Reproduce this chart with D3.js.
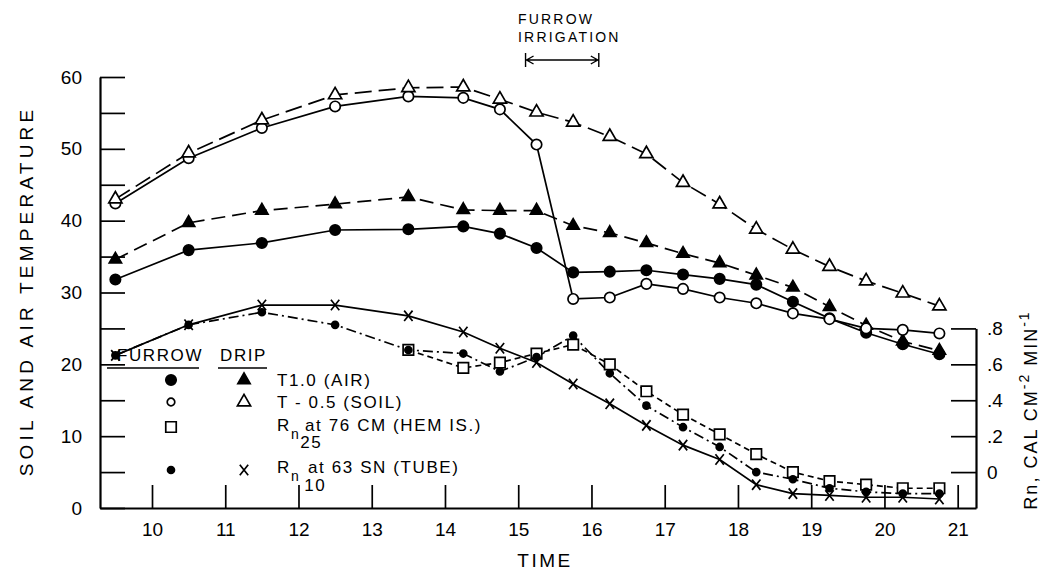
<!DOCTYPE html>
<html lang="en">
<head>
<meta charset="UTF-8">
<script src="https://d3js.org/d3.v7.min.js"></script>
<title>Soil and air temperature</title>
<style>
  body { margin: 0; background: #fff; }
  svg { display: block; font-family: "Liberation Sans", Arial, sans-serif; }
</style>
</head>
<body>
<svg width="1041" height="575"></svg>
<script>
// time of each reading (hours)
const times = [9.5, 10.5, 11.5, 12.5, 13.5, 14.25, 14.75, 15.25, 15.75, 16.25, 16.75, 17.25, 17.75, 18.25, 18.75, 19.25, 19.75, 20.25, 20.75];

// temperatures (left axis)
const furrowAir  = [31.8, 35.9, 36.9, 38.7, 38.8, 39.2, 38.2, 36.2, 32.8, 32.9, 33.1, 32.5, 31.9, 31.1, 28.7, 26.4, 24.4, 22.8, 21.4];
const dripAir    = [34.6, 39.7, 41.4, 42.3, 43.3, 41.5, 41.4, 41.4, 39.3, 38.3, 36.9, 35.4, 34.1, 32.4, 30.7, 28.0, 25.4, 23.2, 21.9];
const furrowSoil = [42.4, 48.7, 52.9, 55.9, 57.3, 57.1, 55.5, 50.6, 29.1, 29.3, 31.2, 30.5, 29.3, 28.5, 27.1, 26.3, 25.0, 24.8, 24.3];
const dripSoil   = [43.0, 49.4, 54.0, 57.5, 58.5, 58.6, 56.9, 55.1, 53.7, 51.7, 49.3, 45.3, 42.3, 38.8, 36.0, 33.6, 31.6, 29.9, 28.1];

// net radiation (right axis)
const furrowRn25 = [null, null, null, null, 0.68, 0.58, 0.61, 0.66, 0.71, 0.60, 0.45, 0.32, 0.21, 0.10, 0.00, -0.05, -0.07, -0.09, -0.09];
const furrowRn10 = [0.65, 0.82, 0.89, 0.82, 0.68, 0.66, 0.56, 0.64, 0.76, 0.55, 0.37, 0.25, 0.14, 0.00, -0.04, -0.09, -0.11, -0.12, -0.12];
const dripRn10   = [0.65, 0.82, 0.93, 0.93, 0.87, 0.78, 0.69, 0.61, 0.49, 0.38, 0.26, 0.15, 0.07, -0.07, -0.12, -0.13, -0.14, -0.14, -0.15];

const xTicks = d3.range(10, 22);
const yTicks = d3.range(0, 61, 5);
const rnTicks = [0, 0.2, 0.4, 0.6, 0.8];
const irrigation = [15.1, 16.1];

const svg = d3.select("svg");

const x = d3.scaleLinear().domain([9.29, 21.25]).range([100, 976]);
const y = d3.scaleLinear().domain([0, 60]).range([508, 77]);
// right axis: 0 sits level with 5 on the left, .8 with 25
const yR = d3.scaleLinear().domain([-0.2, 0.8]).range([y(0), y(25)]);

// x shaped marker
const symbolCross = {
  draw(ctx, size) {
    const r = Math.sqrt(size) / 2;
    ctx.moveTo(-r * 0.8, -r); ctx.lineTo(r * 0.8, r);
    ctx.moveTo(r * 0.8, -r); ctx.lineTo(-r * 0.8, r);
  }
};

const series = [
  { values: furrowAir,  sc: y,  type: d3.symbolCircle,   size: 85,  fill: "#000", dash: null },
  { values: dripAir,    sc: y,  type: d3.symbolTriangle, size: 65,  fill: "#000", dash: "14,7" },
  { values: furrowSoil, sc: y,  type: d3.symbolCircle,   size: 85,  fill: "#fff", dash: null },
  { values: dripSoil,   sc: y,  type: d3.symbolTriangle, size: 75,  fill: "#fff", dash: "17,7" },
  { values: furrowRn25, sc: yR, type: d3.symbolSquare,   size: 110, fill: "#fff", dash: "6,4" },
  { values: furrowRn10, sc: yR, type: d3.symbolCircle,   size: 38,  fill: "#000", dash: "10,4,2,4" },
  { values: dripRn10,   sc: yR, type: symbolCross,       size: 110, fill: "none", dash: null }
];

// axes
const fontSize = 19;

const gx = svg.append("g").attr("transform", `translate(0,${y(0)})`)
  .call(d3.axisBottom(x).tickValues(xTicks).tickSize(-23).tickSizeOuter(0).tickPadding(15));
const gy = svg.append("g").attr("transform", `translate(${x.range()[0]},0)`)
  .call(d3.axisLeft(y).tickValues(yTicks).tickSize(-25).tickSizeOuter(0).tickPadding(18)
    .tickFormat(d => d % 10 === 0 ? d : ""));
const gr = svg.append("g").attr("transform", `translate(${x.range()[1]},0)`)
  .call(d3.axisRight(yR).tickValues(rnTicks).tickSize(-25).tickSizeOuter(0).tickPadding(11)
    .tickFormat(d => d === 0 ? "0" : String(d).replace("0.", ".")));

[gx, gy, gr].forEach(g => {
  g.selectAll("path.domain").attr("stroke", "#000").attr("stroke-width", 2.2);
  g.selectAll(".tick line").attr("stroke", "#000").attr("stroke-width", 1.7);
  g.selectAll(".tick text").attr("fill", "#000").attr("font-size", fontSize)
    .attr("font-family", "Liberation Sans, Arial, sans-serif");
});

// lines, then markers
series.forEach(s => {
  const pts = times.map((t, i) => ({ t, v: s.values[i] }));
  const line = d3.line().defined(d => d.v != null).x(d => x(d.t)).y(d => s.sc(d.v));
  svg.append("path")
    .attr("d", line(pts))
    .attr("fill", "none")
    .attr("stroke", "#000")
    .attr("stroke-width", 1.7)
    .attr("stroke-dasharray", s.dash);
});

series.forEach(s => {
  const pts = times.map((t, i) => ({ t, v: s.values[i] })).filter(d => d.v != null);
  svg.append("g").selectAll("path")
    .data(pts)
    .join("path")
    .attr("transform", d => `translate(${x(d.t)},${s.sc(d.v)})`)
    .attr("d", d3.symbol().type(s.type).size(s.size))
    .attr("fill", s.fill)
    .attr("stroke", "#000")
    .attr("stroke-width", 1.7);
});

// axis titles
svg.append("text")
  .attr("transform", "translate(33,291) rotate(-90)")
  .attr("text-anchor", "middle")
  .attr("font-size", 19)
  .attr("letter-spacing", 4.2)
  .text("SOIL AND AIR TEMPERATURE");

svg.append("text")
  .attr("x", 545).attr("y", 567)
  .attr("text-anchor", "middle")
  .attr("font-size", 19)
  .attr("letter-spacing", 2.5)
  .text("TIME");

const rt = svg.append("text")
  .attr("transform", "translate(1037,410) rotate(-90)")
  .attr("text-anchor", "middle")
  .attr("font-size", 18)
  .attr("letter-spacing", 2);
rt.append("tspan").text("Rn, CAL CM");
rt.append("tspan").attr("dy", -8).attr("font-size", 14).text("-2");
rt.append("tspan").attr("dy", 8).text(" MIN");
rt.append("tspan").attr("dy", -8).attr("font-size", 14).text("-1");

// irrigation annotation
const ann = svg.append("g").attr("font-size", 14).attr("letter-spacing", 2.2);
ann.append("text").attr("x", 518).attr("y", 24).text("FURROW");
ann.append("text").attr("x", 518).attr("y", 42).text("IRRIGATION");
const ax0 = x(irrigation[0]), ax1 = x(irrigation[1]), ay = 60;
ann.append("path")
  .attr("d", `M${ax0},${ay - 7}V${ay + 7}M${ax1},${ay - 7}V${ay + 7}M${ax0},${ay}H${ax1}` +
    `M${ax0 + 8},${ay - 4}L${ax0 + 1},${ay}L${ax0 + 8},${ay + 4}` +
    `M${ax1 - 8},${ay - 4}L${ax1 - 1},${ay}L${ax1 - 8},${ay + 4}`)
  .attr("fill", "none").attr("stroke", "#000").attr("stroke-width", 1.4);

// legend
const leg = svg.append("g").attr("font-size", 17).attr("letter-spacing", 1.6);
leg.append("text").attr("x", 117).attr("y", 361).text("FURROW");
leg.append("text").attr("x", 220).attr("y", 361).text("DRIP");
leg.append("path").attr("d", "M107,368H199M218,368H267")
  .attr("stroke", "#000").attr("stroke-width", 1.6);

const legendRows = [
  { y: 380, furrow: series[0], drip: series[1] },
  { y: 402, furrow: series[2], drip: series[3] },
  { y: 427, furrow: series[4], drip: null },
  { y: 470, furrow: series[5], drip: series[6] }
];
legendRows.forEach(r => {
  [[r.furrow, 171], [r.drip, 244]].forEach(([s, cx]) => {
    if (!s) return;
    const sz = s.type === d3.symbolCircle && s.fill === "#fff" ? 45 : s.size;
    leg.append("path")
      .attr("transform", `translate(${cx},${r.y})`)
      .attr("d", d3.symbol().type(s.type).size(sz))
      .attr("fill", s.fill).attr("stroke", "#000").attr("stroke-width", 1.7);
  });
});

leg.append("text").attr("x", 277).attr("y", 386).text("T1.0 (AIR)");
leg.append("text").attr("x", 277).attr("y", 408).text("T - 0.5 (SOIL)");

const r25 = leg.append("text").attr("x", 277).attr("y", 431);
r25.append("tspan").text("R");
r25.append("tspan").attr("dy", 8).attr("font-size", 14).text("n");
r25.append("tspan").attr("dy", 9).text("25");
leg.append("text").attr("x", 305).attr("y", 431).text("at 76 CM (HEM IS.)");

const r10 = leg.append("text").attr("x", 277).attr("y", 473);
r10.append("tspan").text("R");
r10.append("tspan").attr("dy", 8).attr("font-size", 14).text("n");
r10.append("tspan").attr("dy", 10).attr("dx", 4).text("10");
leg.append("text").attr("x", 308).attr("y", 473).text("at 63 SN (TUBE)");
</script>
</body>
</html>
